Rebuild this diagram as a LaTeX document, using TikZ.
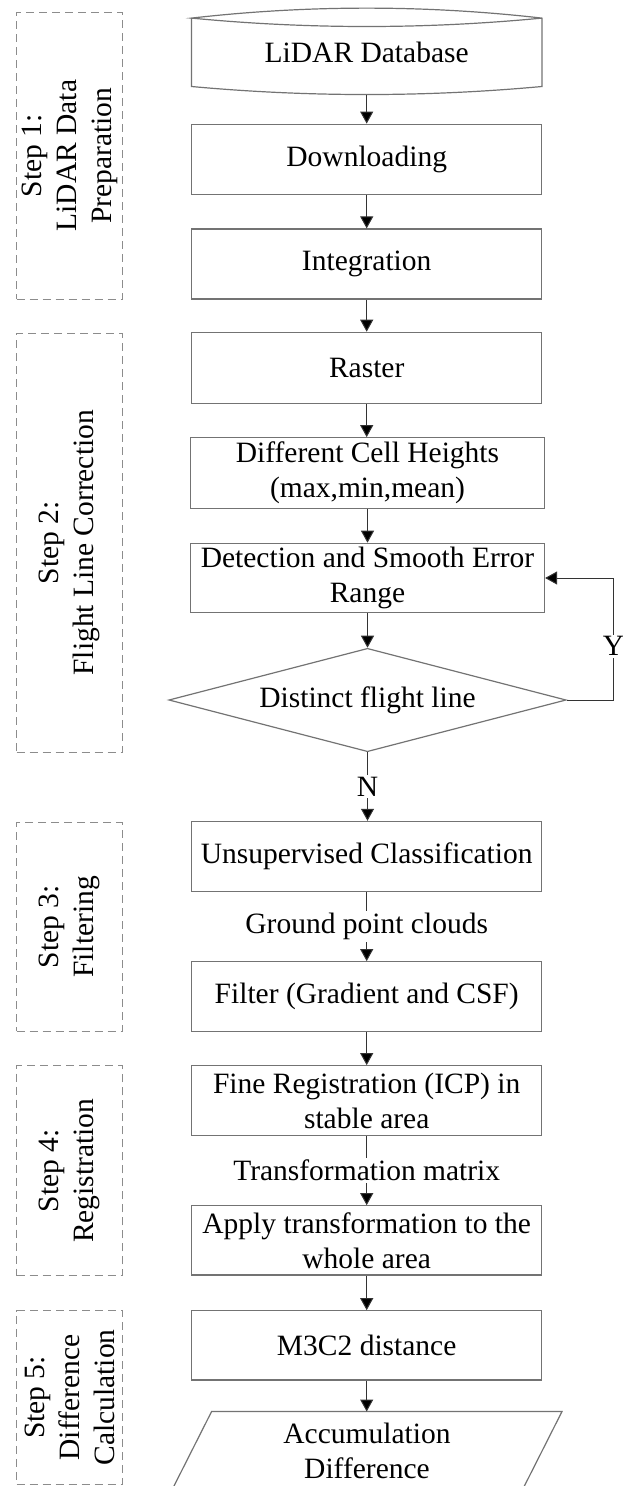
\documentclass[tikz,border=0pt]{standalone}
\usepackage{fontspec}
\setmainfont{Liberation Serif}
\usetikzlibrary{arrows.meta,shapes.geometric,calc}
\begin{document}
\begin{tikzpicture}[x=1pt,y=-1pt,
  every node/.style={font=\fontsize{29.5pt}{35pt}\selectfont, inner sep=0pt, align=center},
  boxline/.style={draw=black!55, line width=1.2pt},
  box/.style={boxline, minimum width=350pt, minimum height=70pt},
  wbox/.style={box, minimum width=354pt},
  stepbox/.style={draw=black!45, line width=1pt, dash pattern=on 8pt off 5pt, minimum width=105.6pt},
  arr/.style={draw=black!80, line width=1pt, -{Triangle[length=12pt,width=13pt,fill=black]}},
  lab/.style={fill=white, inner sep=2pt}
]
\useasboundingbox (0,0) rectangle (622,1486);
\clip (0,0) rectangle (622,1486);

% step boxes
\node[stepbox, minimum height=286.7pt] (s1) at (69.5,155.65) {};
\node[rotate=90] (t1) at (s1) {Step 1:\\LiDAR Data\\Preparation};
\node[stepbox, minimum height=419pt] (s2) at (69.5,542.8) {};
\node[rotate=90] (t2) at (s2) {Step 2:\\Flight Line Correction};
\node[stepbox, minimum height=208.3pt] (s3) at (69.5,926.85) {};
\node[rotate=90] (t3) at (s3) {Step 3:\\Filtering};
\node[stepbox, minimum height=210pt] (s4) at (69.5,1170.7) {};
\node[rotate=90] (t4) at (s4) {Step 4:\\Registration};
\node[stepbox, minimum height=173.6pt] (s5) at (69.5,1397.5) {};
\node[rotate=90] (t5) at (s5) {Step 5:\\Difference\\Calculation};

% database
\node[minimum width=350pt, minimum height=68pt] (db) at (366.7,52.3) {LiDAR Database};
\draw[boxline] (db.north west) -- (db.south west)
  .. controls ($(db.south west)+(116.7,10.7)$) and ($(db.south east)+(-116.7,10.7)$) .. (db.south east)
  -- (db.north east)
  .. controls ($(db.north east)+(-116.7,-13.3)$) and ($(db.north west)+(116.7,-13.3)$) .. (db.north west)
  .. controls ($(db.north west)+(116.7,11.2)$) and ($(db.north east)+(-116.7,11.2)$) .. (db.north east);
\coordinate (dbb) at ($(db.south)+(0,8)$);

% process boxes
\node[box] (dl) at (366.7,159.2) {Downloading};
\node[box] (integ) at (366.7,264) {Integration};
\node[box, minimum height=71.4pt] (raster) at (366.7,368) {Raster};
\node[wbox, minimum height=70.6pt] (cell) at (367.5,473) {Different Cell Heights\\(max,min,mean)};
\node[wbox, minimum height=69.4pt] (det) at (367.5,578) {Detection and Smooth Error\\Range};
\node[diamond, boxline, aspect=3.84, minimum width=397.3pt, minimum height=103.4pt] (dia) at (367.5,700) {Distinct flight line};
\node[box] (unsup) at (366.7,856.4) {Unsupervised Classification};
\node[box] (filter) at (366.7,996.7) {Filter (Gradient and CSF)};
\node[box] (fine) at (366.7,1100.7) {Fine Registration (ICP) in\\stable area};
\node[box, minimum height=69.3pt] (apply) at (366.7,1240.4) {Apply transformation to the\\whole area};
\node[box, minimum height=69.3pt] (m3c2) at (366.7,1345.4) {M3C2 distance};
\node[minimum width=350pt, minimum height=78pt] (acc) at (367,1450.7) {Accumulation\\Difference};
\draw[boxline] ($(acc.north west)+(19.8,0)$) -- ($(acc.north east)+(19.8,0)$)
  -- ($(acc.south east)+(-19.8,0)$) -- ($(acc.south west)+(-19.8,0)$) -- cycle;

% connectors
\draw[arr] (dbb) -- (dl);
\draw[arr] (dl) -- (integ);
\draw[arr] (integ) -- (raster);
\draw[arr] (raster.south) -- (raster.south |- cell.north);
\draw[arr] (cell) -- (det);
\draw[arr] (det) -- (dia);
\draw[arr] (dia.east) -- ++(46.8,0) |- node[lab, pos=0.22]{Y} (det.east);
\draw[arr] (dia.south) -- node[lab]{N} (dia.south |- unsup.north);
\draw[arr] (unsup) -- node[lab]{Ground point clouds} (filter);
\draw[arr] (filter) -- (fine);
\draw[arr] (fine) -- node[lab]{Transformation matrix} (apply);
\draw[arr] (apply) -- (m3c2);
\draw[arr] (m3c2) -- (m3c2 |- acc.north);
\end{tikzpicture}
\end{document}
